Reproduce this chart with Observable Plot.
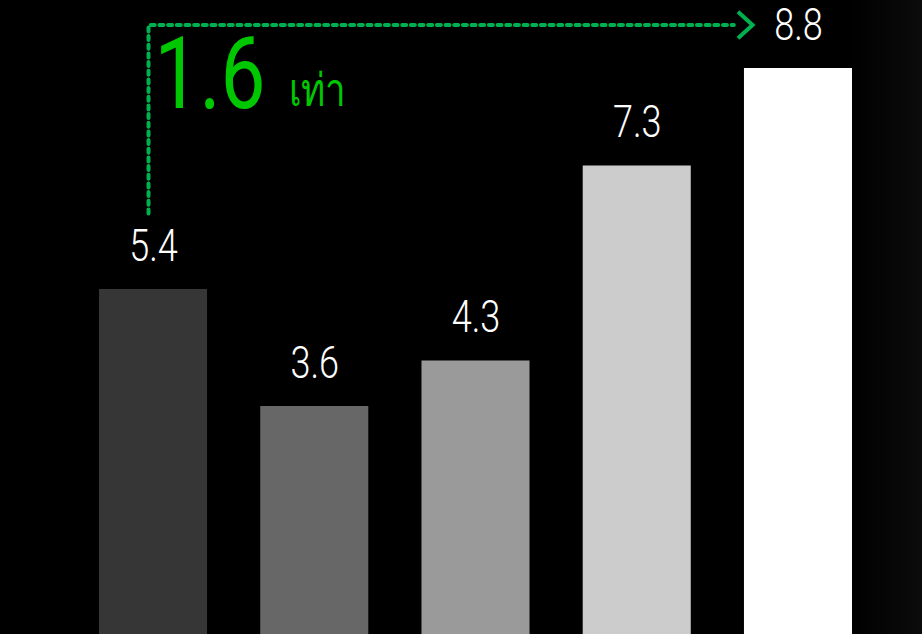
<!DOCTYPE html>
<html><head><meta charset="utf-8">
<script src="https://cdn.jsdelivr.net/npm/d3@7"></script>
<script src="https://cdn.jsdelivr.net/npm/@observablehq/plot@0.6"></script>
<style>
html,body{margin:0;padding:0;overflow:hidden;}
body{width:922px;height:634px;background:linear-gradient(to right,#000 0px,#000 850px,#0b0b0b 922px);}
#chart svg{display:block;overflow:visible}
</style></head><body><div id="chart"></div>
<script>
// ---- data ----
const categories = ["1", "2", "3", "4", "5"];
const values = [5.4, 3.6, 4.3, 7.3, 8.8];
const barColors = ["#363636", "#676767", "#9a9a9a", "#cccccc", "#ffffff"];
const ratioUnit = "เท่า";

// ---- derived ----
const data = categories.map((c, i) => ({c, i, v: values[i], color: barColors[i]}));
const ratio = values[values.length - 1] / values[0];
const ratioLabel = ratio.toFixed(1);
const last = data.length - 1;

// connector (dotted) from first bar's label up and across toward last label
const connectorTop = 9.47;
const connector = [
  {x: data[0].i + 0.5, y: 6.57},
  {x: data[0].i + 0.5, y: connectorTop},
  {x: data[last].i + 0.13, y: connectorTop}
];
const arrowHead = [{x: data[last].i + 0.17, y: connectorTop}];
const chevron = {
  draw(ctx, size) {
    const r = Math.sqrt(size);
    ctx.moveTo(-r * 0.55, -r);
    ctx.lineTo(r * 0.55, 0);
    ctx.lineTo(-r * 0.55, r);
  }
};
const annot = [{x: data[0].i + 0.5, y: 8.185}];

const FONT = "'Roboto', sans-serif";
const GREEN_TXT = "#00c800";
const GREEN_LINE = "#00b050";

const chart = Plot.plot({
  width: 922,
  height: 640,
  margin: 0,
  style: {background: "transparent", fontFamily: FONT},
  x: {domain: [0, categories.length], range: [72.4, 878.6], axis: null},
  y: {domain: [0, 8.8], range: [640, 68], axis: null},
  marks: [
    Plot.rectY(data, {x1: d => d.i, x2: d => d.i + 1, y: "v", fill: d => d.color, insetLeft: 26.6, insetRight: 26.6}),
    Plot.text(data, {x: d => d.i + 0.5, y: "v", text: d => d.v.toFixed(1), fill: "#ffffff", fontSize: 45, fontWeight: 300, lineAnchor: "bottom", dy: -29, textAnchor: "middle"}),
    Plot.line(connector, {x: "x", y: "y", stroke: GREEN_LINE, strokeWidth: 4, strokeDasharray: "4,4.67", dx: -5, strokeLinejoin: "miter", curve: "linear"}),
    Plot.dot(arrowHead, {x: "x", y: "y", symbol: chevron, r: 7.5, stroke: GREEN_LINE, strokeWidth: 4, fill: "none", strokeLinejoin: "miter"}),
    Plot.text(annot, {x: "x", y: "y", text: () => ratioLabel, fill: GREEN_TXT, fontSize: 100, textAnchor: "start", lineAnchor: "bottom", dx: 1}),
    Plot.text(annot, {x: "x", y: "y", text: () => ratioUnit, fill: GREEN_TXT, fontSize: 46, textAnchor: "start", lineAnchor: "bottom", dx: 135, dy: -2})
  ]
});
document.getElementById("chart").append(chart);
// narrow the lettering to match the condensed face of the original
chart.querySelectorAll("text").forEach(t => {
  const w = t.getComputedTextLength();
  t.setAttribute("textLength", (w * 0.8).toFixed(1));
  t.setAttribute("lengthAdjust", "spacingAndGlyphs");
});
</script>
</body></html>
